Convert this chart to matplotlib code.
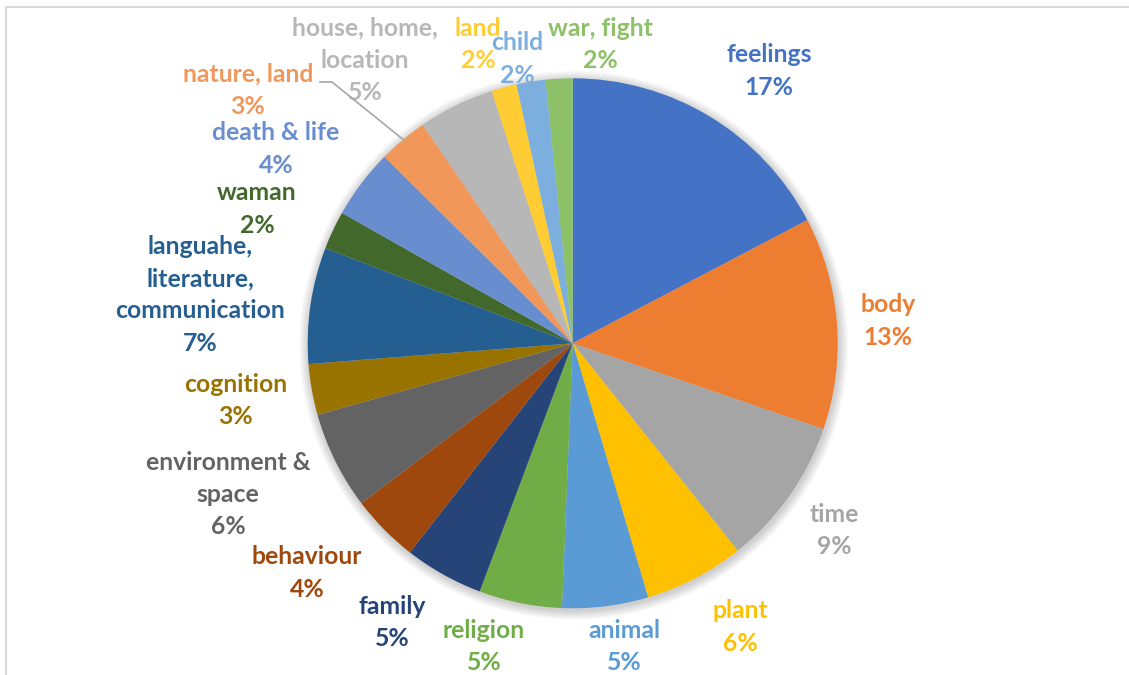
import matplotlib.pyplot as plt
from matplotlib.patches import Circle

# data (percent of total)
categories = ["feelings", "body", "time", "plant", "animal", "religion", "family",
              "behaviour", "environment &\nspace", "cognition",
              "languahe,\nliterature,\ncommunication", "waman", "death & life",
              "nature, land", "house, home,\nlocation", "land", "child", "war, fight"]
shares = [17.3, 12.94, 9.05, 6.1, 5.24, 5.06, 4.82, 4.16, 5.96, 3.1,
          7.09, 2.34, 4.24, 2.99, 4.64, 1.54, 1.77, 1.63]
colors = ["#4472C4", "#ED7D31", "#A5A5A5", "#FFC000", "#5B9BD5", "#70AD47",
          "#264478", "#9E480E", "#636363", "#997300", "#255E91", "#43682B",
          "#698ED0", "#F1975A", "#B7B7B7", "#FFCD33", "#7CAFDD", "#8CC168"]

# label anchors in pixels (centre x, centre y of first line)
label_xy = [(769, 55), (888, 305), (834, 514), (740, 611), (624, 630), (484, 630),
            (392, 606), (307, 557), (228, 462), (236, 384), (200, 246), (257, 193),
            (276, 133), (248, 74), (365, 28), (478, 28), (517, 43), (600, 28)]

W, H = 1129, 675
fig = plt.figure(figsize=(W / 100, H / 100), dpi=100)
ax = fig.add_axes([0, 0, 1, 1])

cx, cy, r = 572.7, H - 343.3, 265

# soft shadow behind the pie
for i in range(8):
    ax.add_patch(Circle((cx + 1, cy - 2), r + 1 + i * 1.2, color="#000000",
                        alpha=0.025, lw=0, zorder=0))

wedges, _ = ax.pie(shares, colors=colors, startangle=90, counterclock=False,
                   center=(cx, cy), radius=r, frame=True,
                   wedgeprops=dict(linewidth=0))
for w in wedges:
    w.set_zorder(2)

total = sum(shares)
step = 32.5
for name, val, col, (x, y) in zip(categories, shares, colors, label_xy):
    lines = name.split("\n") + [f"{round(val / total * 100):.0f}%"]
    for i, line in enumerate(lines):
        ax.text(x, H - (y + i * step), line, color=col, fontsize=17.8,
                fontfamily="Lato", fontweight="bold", ha="center", va="center")

# leader line for house, home, location
ax.plot([320, 332, 405], [H - 82, H - 82, H - 141], color="#A6A6A6", lw=1.2, zorder=3)

# chart area border
ax.plot([6, W], [H - 7, H - 7], color="#D9D9D9", lw=1.5)
ax.plot([6, 6], [0, H - 7], color="#D9D9D9", lw=1.5)

ax.set_xlim(0, W)
ax.set_ylim(0, H)
ax.set_aspect("auto")
ax.axis("off")

fig.savefig("out.png", dpi=100)
